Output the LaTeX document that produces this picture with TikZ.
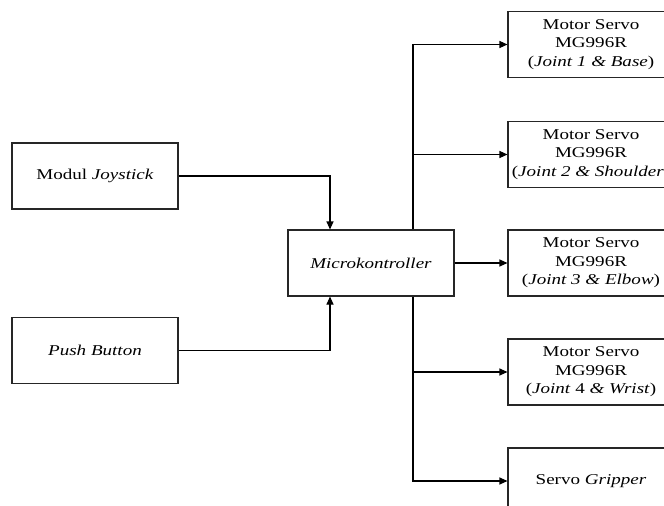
\documentclass[tikz,border=0pt]{standalone}
\usepackage{fontspec}
\setmainfont{Liberation Serif}[FakeStretch=1.27]
\usetikzlibrary{arrows.meta}

\begin{document}
\begin{tikzpicture}[x=1pt,y=-1pt,line width=1.1pt,
  >={Triangle[length=8pt,width=7pt]},
  font=\fontsize{15}{18.5}\selectfont,
  box/.style={draw=black!85,fill=white,align=center,inner sep=2pt,
              minimum width=166pt,minimum height=66pt}]
  \useasboundingbox (0,0) rectangle (664,506);
  \node[box] (jst) at (95,176)    {Modul \textit{Joystick}};
  \node[box] (pb)  at (95,350.5)  {\textit{Push Button}};
  \node[box] (mcu) at (371,263)   {\textit{Microkontroller}};
  \node[box] (m1)  at (591,44.5)
    {Motor Servo\\ MG996R\\ (\textit{Joint 1 \& Base})};
  \node[box] (m2)  at (591,154.5)
    {Motor Servo\\ MG996R\\ \makebox[150pt]{(\textit{Joint 2 \& Shoulder})}};
  \node[box] (m3)  at (591,263)
    {Motor Servo\\ MG996R\\ (\textit{Joint 3 \& Elbow})};
  \node[box] (m4)  at (591,372)
    {Motor Servo\\ MG996R\\ (\textit{Joint} 4 \textit{\& Wrist})};
  \node[box] (grp) at (591,481)   {Servo \textit{Gripper}};
  \coordinate (bt) at ([xshift=42pt]mcu.north);
  \coordinate (bb) at ([xshift=42pt]mcu.south);
  \draw[->] (jst.east) -| ([xshift=-41pt]mcu.north);
  \draw[->] (pb.east) -| ([xshift=-41pt]mcu.south);
  \draw[->] (bt) |- (m1.west);
  \draw[->] (bt |- m2.west) -- (m2.west);
  \draw[->] (mcu.east) -- (m3.west);
  \draw[->] (bb) |- (grp.west);
  \draw[->] (bb |- m4.west) -- (m4.west);
\end{tikzpicture}
\end{document}
